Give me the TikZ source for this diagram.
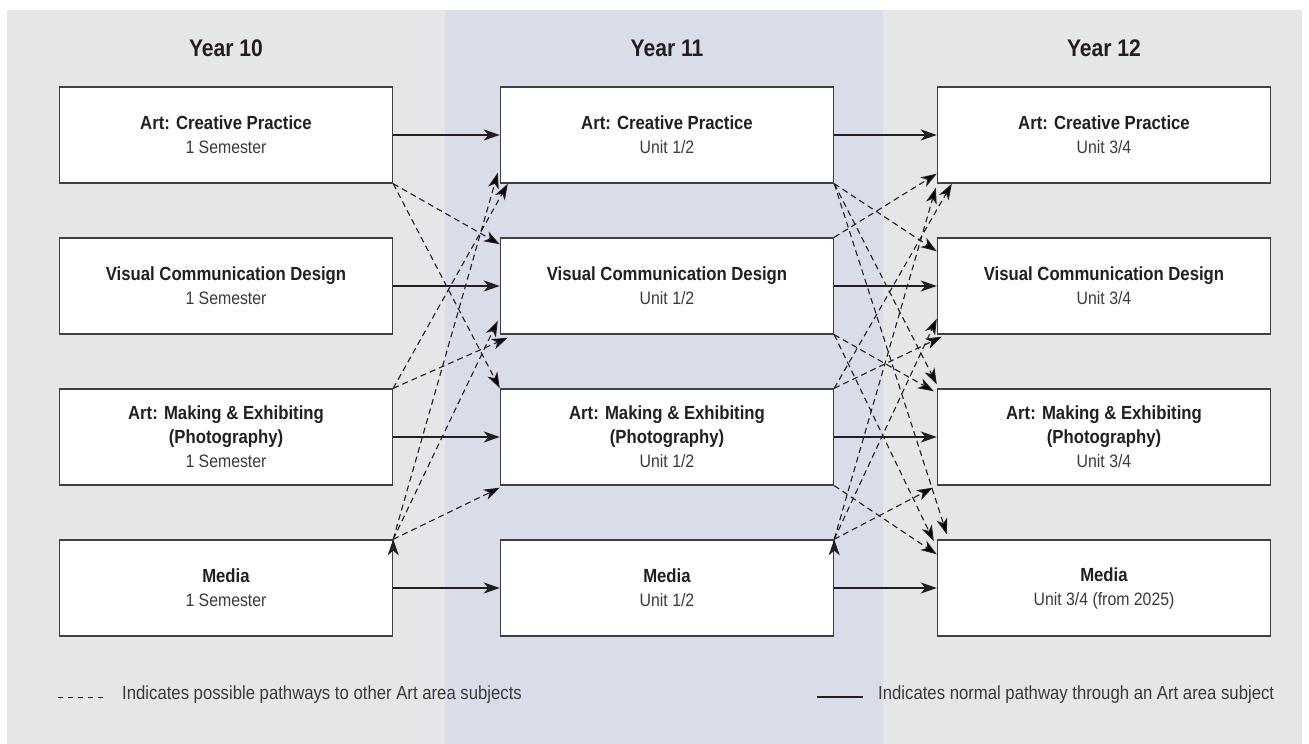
\documentclass[tikz,border=0pt]{standalone}
\usepackage{fontspec}
\setmainfont{Liberation Sans}[FakeStretch=0.88]
\usetikzlibrary{arrows.meta}

\definecolor{bggray}{HTML}{E5E6E8}
\definecolor{bgblue}{HTML}{D9DDEA}
\definecolor{ink}{HTML}{231F20}
\definecolor{boxline}{HTML}{404040}
\definecolor{subtext}{HTML}{3A3A3A}

\tikzset{
  subj/.style={draw=boxline, line width=1.4pt, fill=white, minimum width=333pt,
               minimum height=96pt, align=center, text=ink,
               font=\fontsize{19}{24}\selectfont},
  yearlbl/.style={text=ink, font=\fontsize{24}{28}\selectfont\bfseries},
  legtext/.style={text=subtext, inner sep=0pt, anchor=west,
                  font=\fontsize{19}{24}\selectfont},
  normal/.style={->, line width=2.4pt, draw=ink},
  possible/.style={->, line width=1.1pt, draw=ink, dash pattern=on 6pt off 4pt},
}
\newcommand{\subline}[1]{{\color{subtext}\fontsize{18}{24}\selectfont #1}}

\begin{document}
\begin{tikzpicture}[x=1pt,y=1pt,node distance=151pt,
                    >={Stealth[length=16pt,width=11pt,inset=4.5pt]}]
  % backdrop
  \fill[white] (0,0) rectangle (1309,744);
  \fill[bggray] (7,0) rectangle (1302,734);
  \fill[bgblue] (445,0) rectangle (883,734);
  \useasboundingbox (0,0) rectangle (1309,744);

  \node[yearlbl] (Y10) at (226,696) {Year 10};
  \node[yearlbl] (Y11) [right of=Y10, node distance=441pt] {Year 11};
  \node[yearlbl] (Y12) [right of=Y11, node distance=437pt] {Year 12};

  % year 10
  \node[subj] (A1) at (226,609) {\textbf{Art: Creative Practice}\\\subline{1 Semester}};
  \node[subj] (A2) [below of=A1] {\textbf{Visual Communication Design}\\\subline{1 Semester}};
  \node[subj] (A3) [below of=A2] {\textbf{Art: Making \& Exhibiting}\\\textbf{(Photography)}\\\subline{1 Semester}};
  \node[subj] (A4) [below of=A3] {\textbf{Media}\\\subline{1 Semester}};

  % year 11
  \node[subj] (B1) [right of=A1, node distance=441pt] {\textbf{Art: Creative Practice}\\\subline{Unit 1/2}};
  \node[subj] (B2) [below of=B1] {\textbf{Visual Communication Design}\\\subline{Unit 1/2}};
  \node[subj] (B3) [below of=B2] {\textbf{Art: Making \& Exhibiting}\\\textbf{(Photography)}\\\subline{Unit 1/2}};
  \node[subj] (B4) [below of=B3] {\textbf{Media}\\\subline{Unit 1/2}};

  % year 12
  \node[subj] (C1) [right of=B1, node distance=437pt] {\textbf{Art: Creative Practice}\\\subline{Unit 3/4}};
  \node[subj] (C2) [below of=C1] {\textbf{Visual Communication Design}\\\subline{Unit 3/4}};
  \node[subj] (C3) [below of=C2] {\textbf{Art: Making \& Exhibiting}\\\textbf{(Photography)}\\\subline{Unit 3/4}};
  \node[subj] (C4) [below of=C3] {\textbf{Media}\\\subline{Unit 3/4 (from 2025)}};

  \path[normal] (A1) edge (B1)
                (A2) edge (B2)
                (A3) edge (B3)
                (A4) edge (B4)
                (B1) edge (C1)
                (B2) edge (C2)
                (B3) edge (C3)
                (B4) edge (C4);

  \path[possible] (A1.south east) edge ([yshift=-7pt]B2.north west)
                                  edge (B3.north west)
                  (A3.north east) edge ([xshift=8pt]B1.south west)
                                  edge ([xshift=8pt,yshift=-3pt]B2.south west)
                  (A4.north east) edge ([xshift=-2pt,yshift=11pt]B1.south west)
                                  edge ([xshift=-2pt,yshift=14pt]B2.south west)
                                  edge ([yshift=-2pt]B3.south west);

  \path[possible] (B1.south east) edge ([yshift=-14pt]C2.north west)
                                  edge ([yshift=4pt]C3.north west)
                                  edge ([xshift=10pt,yshift=5pt]C4.north west)
                  (B2.north east) edge ([yshift=10pt]C1.south west)
                  (B2.south east) edge ([xshift=-3pt,yshift=-3pt]C3.north west)
                                  edge ([xshift=-3pt,yshift=-2pt]C4.north west)
                  (B3.north east) edge ([xshift=15pt]C1.south west)
                                  edge ([xshift=5pt,yshift=-2pt]C2.south west)
                  (B3.south east) edge ([yshift=-15pt]C4.north west)
                  (B4.north east) edge ([xshift=-1pt,yshift=-4pt]C1.south west)
                                  edge ([yshift=16pt]C2.south west)
                                  edge ([xshift=-4pt,yshift=-2pt]C3.south west);

  % legend
  \coordinate (ld1) at (58,46);
  \coordinate (ld2) at (103,46);
  \draw[draw=ink, line width=1pt, dash pattern=on 5pt off 5pt] (ld1) -- (ld2);
  \node[legtext] (LD) at (122,49) {Indicates possible pathways to other Art area subjects};
  \coordinate (ls1) at (817,47);
  \coordinate (ls2) at (863,47);
  \draw[draw=ink, line width=2.4pt] (ls1) -- (ls2);
  \node[legtext] (LS) at (878,49) {Indicates normal pathway through an Art area subject};
\end{tikzpicture}
\end{document}
